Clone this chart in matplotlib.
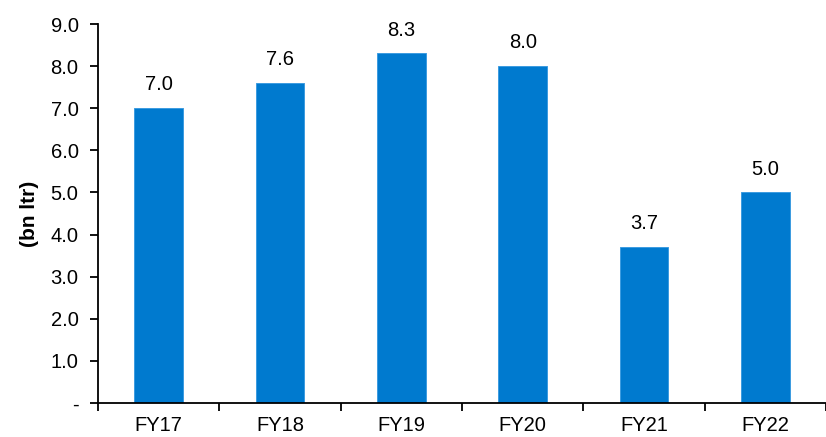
import matplotlib
matplotlib.use("Agg")
import matplotlib.pyplot as plt
from matplotlib.ticker import FixedLocator, FuncFormatter

categories = ["FY17", "FY18", "FY19", "FY20", "FY21", "FY22"]
values = [7.0, 7.6, 8.3, 8.0, 3.7, 5.0]
ytick_vals = [0, 1, 2, 3, 4, 5, 6, 7, 8, 9]

plt.rcParams['font.family'] = ['Liberation Sans', 'DejaVu Sans']

fig = plt.figure(figsize=(8.26, 4.37), dpi=100)
ax = fig.add_axes([98/826, 1-403/437, 1-98/826, (403-24)/437])

x = list(range(len(categories)))
ax.bar(x, values, width=0.4, color='#007ACF', edgecolor='#3C9BE0', linewidth=0.7, zorder=2)
for xi, v in zip(x, values):
    ax.annotate(f"{v:.1f}", (xi, v), xytext=(0, 10), textcoords='offset points',
                ha='center', va='bottom', fontsize=14.5)

ax.set_xlim(-0.5, 5.5)
ax.set_ylim(0, 9)
ax.yaxis.set_major_locator(FixedLocator(ytick_vals))
ax.yaxis.set_major_formatter(FuncFormatter(lambda v, p: "-" if v == 0 else f"{v:.1f}"))
ax.set_xticks(x)
ax.set_xticklabels(categories, fontsize=14.5)
ax.xaxis.set_minor_locator(FixedLocator([i - 0.5 for i in range(len(categories) + 1)]))
ax.tick_params(axis='x', which='major', length=0, pad=9.5)
ax.tick_params(axis='x', which='minor', length=6, width=1.3, direction='out')
ax.tick_params(axis='y', length=6, width=1.3, direction='out', labelsize=14.5, pad=8)

for s in ['top', 'right']:
    ax.spines[s].set_visible(False)
for s in ['left', 'bottom']:
    ax.spines[s].set_linewidth(1.3)

ax.set_ylabel("(bn ltr)", fontsize=15, fontweight='bold', labelpad=8)

fig.savefig("out.png", dpi=100)
